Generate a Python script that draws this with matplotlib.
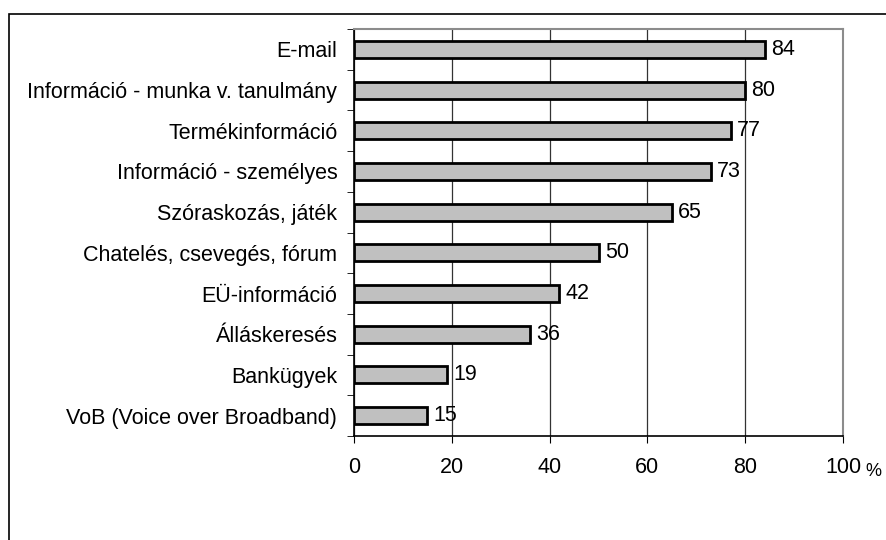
import matplotlib
matplotlib.use("Agg")
from matplotlib import pyplot as plt
from matplotlib.patches import Rectangle
import numpy as np

plt.rcParams['font.family'] = ['Liberation Sans', 'DejaVu Sans']

categories = ["E-mail", "Információ - munka v. tanulmány", "Termékinformáció",
              "Információ - személyes", "Szóraskozás, játék",
              "Chatelés, csevegés, fórum", "EÜ-információ", "Álláskeresés",
              "Bankügyek", "VoB (Voice over Broadband)"]
values = [84, 80, 77, 73, 65, 50, 42, 36, 19, 15]
x_ticks = [0, 20, 40, 60, 80, 100]

W, H = 886, 540
FS = 15.5
fig = plt.figure(figsize=(W / 100, H / 100), dpi=100)

# outer chart frame (only left and top edges fall inside the picture)
fig.add_artist(Rectangle((9 / W, -0.1), 1.2, 1.1 - 14 / H, transform=fig.transFigure,
                         fill=False, edgecolor='black', linewidth=1.2))

left, right, top, bottom = 354, 843, 29, 436
ax = fig.add_axes([left / W, 1 - bottom / H, (right - left) / W, (bottom - top) / H])

n = len(categories)
pos = np.arange(n)[::-1]
ax.barh(pos, values, height=0.42, color='#c0c0c0', edgecolor='black', linewidth=2, zorder=3)
for p, v in zip(pos, values):
    ax.text(v + 1.3, p, str(v), va='center', ha='left', fontsize=FS)

ax.set_xlim(0, 100)
ax.set_ylim(-0.5, n - 0.5)
ax.set_xticks(x_ticks)
ax.set_xticklabels([str(t) for t in x_ticks], fontsize=FS)
ax.tick_params(axis='x', direction='out', length=5, pad=10, color='black')
ax.set_yticks(pos)
ax.set_yticklabels(categories, fontsize=FS)
ax.tick_params(axis='y', which='major', length=0, pad=12)
ax.set_yticks(np.arange(-0.5, n, 1), minor=True)
ax.tick_params(axis='y', which='minor', length=5, direction='out')

ax.xaxis.grid(True, color='#333333', linewidth=0.9, zorder=0)
ax.set_axisbelow(True)
for s in ['top', 'right']:
    ax.spines[s].set_color('#8c8c8c')
    ax.spines[s].set_linewidth(1.5)
ax.spines['left'].set_linewidth(1.2)
ax.spines['bottom'].set_linewidth(1.2)

fig.text(865 / W, 1 - 472 / H, "%", fontsize=13, ha='left', va='center')

fig.savefig("out.png", dpi=100)
